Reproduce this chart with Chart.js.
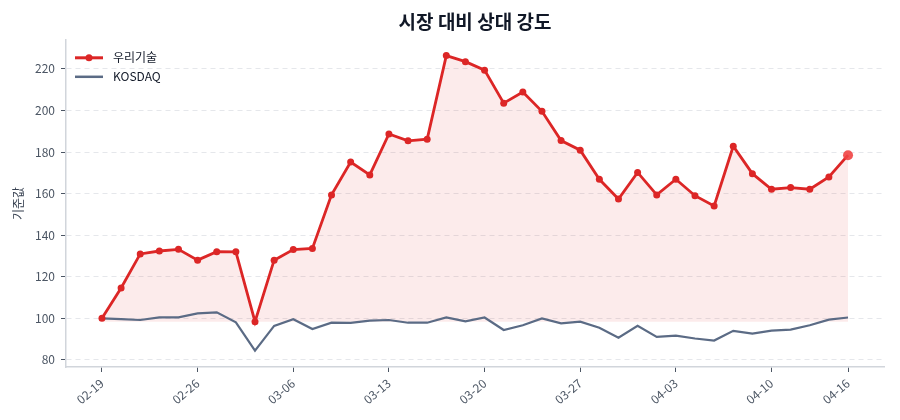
<!DOCTYPE html>
<html>
<head>
<meta charset="utf-8">
<script src="https://cdn.jsdelivr.net/npm/chart.js@4.4.1/dist/chart.umd.min.js"></script>
<style>
  html, body { margin: 0; padding: 0; background: #fff; }
  #wrap { width: 900px; height: 420px; }
</style>
</head>
<body>
<div id="wrap"><canvas id="rsChart"></canvas></div>
<script>
// Trading days (2025)
const dates = [
  '02-19', '02-20', '02-21', '02-24', '02-25', '02-26', '02-27', '02-28', '03-04', '03-05',
  '03-06', '03-07', '03-10', '03-11', '03-12', '03-13', '03-14', '03-17', '03-18', '03-19',
  '03-20', '03-21', '03-24', '03-25', '03-26', '03-27', '03-28', '03-31', '04-01', '04-02',
  '04-03', '04-04', '04-07', '04-08', '04-09', '04-10', '04-11', '04-14', '04-15', '04-16'
];
// Rebased values (start = 100)
const wooriValues = [
  100.0, 114.6, 131.0, 132.4, 133.2, 128.0, 132.1, 132.0, 98.4, 128.0,
  133.1, 133.6, 159.4, 175.2, 169.0, 188.7, 185.4, 186.2, 226.4, 223.5,
  219.4, 203.5, 208.9, 199.6, 185.5, 180.9, 166.9, 157.4, 170.2, 159.4,
  166.9, 159.0, 154.1, 182.8, 169.6, 162.1, 162.9, 162.1, 168.0, 178.5
];
const kosdaqValues = [
  100.0, 99.6, 99.2, 100.5, 100.5, 102.4, 102.9, 98.1, 84.5, 96.4,
  99.6, 94.9, 97.9, 97.8, 98.9, 99.2, 97.9, 97.9, 100.5, 98.6,
  100.4, 94.4, 96.7, 100.0, 97.6, 98.4, 95.5, 90.7, 96.4, 91.1,
  91.7, 90.3, 89.3, 94.0, 92.7, 94.1, 94.6, 96.7, 99.4, 100.4
];
const xTickIdx = [0, 5, 10, 15, 20, 25, 30, 35, 39];
const yTicks = [80, 100, 120, 140, 160, 180, 200, 220];

const seriesNames = ['우리기술', 'KOSDAQ'];
const RED = '#dc2626';
const SLATE = '#5b6b85';
const TICK_GRAY = '#4b5563';
const FONT = "'Noto Sans CJK KR', 'Noto Sans', sans-serif";

const lastIdx = wooriValues.length - 1;
const fillBase = Math.min(...wooriValues);

// Legend drawn in the top-left of the plot area (line + marker samples)
const legendPlugin = {
  id: 'insideLegend',
  afterDraw(chart) {
    const { ctx, chartArea } = chart;
    const x0 = chartArea.left + 9;
    const rows = [
      { label: seriesNames[0], color: RED, width: 3, marker: true },
      { label: seriesNames[1], color: SLATE, width: 2.5, marker: false }
    ];
    ctx.save();
    ctx.font = '12px ' + FONT;
    ctx.textBaseline = 'middle';
    rows.forEach((r, i) => {
      const y = chartArea.top + 18 + i * 19;
      ctx.strokeStyle = r.color;
      ctx.lineWidth = r.width;
      ctx.beginPath();
      ctx.moveTo(x0, y);
      ctx.lineTo(x0 + 28, y);
      ctx.stroke();
      if (r.marker) {
        ctx.fillStyle = r.color;
        ctx.beginPath();
        ctx.arc(x0 + 14, y, 3.5, 0, Math.PI * 2);
        ctx.fill();
      }
      ctx.fillStyle = '#111827';
      ctx.fillText(r.label, x0 + 38, y);
    });
    ctx.restore();
  }
};

const ctx = document.getElementById('rsChart').getContext('2d');
new Chart(ctx, {
  type: 'line',
  data: {
    datasets: [
      {
        label: seriesNames[0],
        data: wooriValues.map((v, i) => ({ x: i, y: v })),
        borderColor: RED,
        borderWidth: 2.8,
        backgroundColor: 'rgba(220, 38, 38, 0.09)',
        fill: { value: fillBase },
        pointRadius: wooriValues.map((v, i) => i === lastIdx ? 5 : 3.5),
        pointBackgroundColor: wooriValues.map((v, i) => i === lastIdx ? 'rgba(239, 68, 68, 0.9)' : RED),
        pointBorderWidth: 0,
        tension: 0
      },
      {
        label: seriesNames[1],
        data: kosdaqValues.map((v, i) => ({ x: i, y: v })),
        borderColor: SLATE,
        borderWidth: 2.2,
        pointRadius: 0,
        fill: false,
        tension: 0
      }
    ]
  },
  options: {
    responsive: true,
    maintainAspectRatio: false,
    animation: false,
    layout: { padding: { left: 0, right: 16, top: 0, bottom: 0 } },
    scales: {
      x: {
        type: 'linear',
        min: -1.88,
        max: 40.88,
        afterBuildTicks: (scale) => { scale.ticks = xTickIdx.map(v => ({ value: v })); },
        afterFit: (scale) => { scale.height = 53; },
        ticks: {
          autoSkip: false,
          minRotation: 40,
          maxRotation: 40,
          color: TICK_GRAY,
          font: { family: FONT, size: 12 },
          padding: 4,
          callback: (v) => dates[v]
        },
        grid: { drawOnChartArea: false, drawTicks: true, tickLength: 5, tickColor: TICK_GRAY, tickWidth: 1 },
        border: { display: true, color: '#d1d5db', width: 1.5 }
      },
      y: {
        min: 76.6,
        max: 234,
        afterBuildTicks: (scale) => { scale.ticks = yTicks.map(v => ({ value: v })); },
        afterFit: (scale) => { scale.width = 66; },
        ticks: {
          color: TICK_GRAY,
          font: { family: FONT, size: 12 },
          padding: 6
        },
        grid: { color: '#e5e7eb', lineWidth: 1, tickLength: 5, tickColor: TICK_GRAY, tickWidth: 1, tickBorderDash: [] },
        border: { display: true, color: '#d1d5db', width: 1.5, dash: [5, 4] },
        title: {
          display: true,
          text: '기준값',
          color: '#374151',
          font: { family: FONT, size: 12 },
          padding: { top: 11, bottom: 0 }
        }
      }
    },
    plugins: {
      legend: { display: false },
      tooltip: { enabled: false },
      filler: { drawTime: 'beforeDatasetsDraw' },
      title: {
        display: true,
        fullSize: false,
        text: '시장 대비 상대 강도',
        color: '#111827',
        font: { family: FONT, size: 19, weight: 'bold' },
        padding: { top: 10, bottom: 7 }
      }
    }
  },
  plugins: [legendPlugin]
});
</script>
</body>
</html>
